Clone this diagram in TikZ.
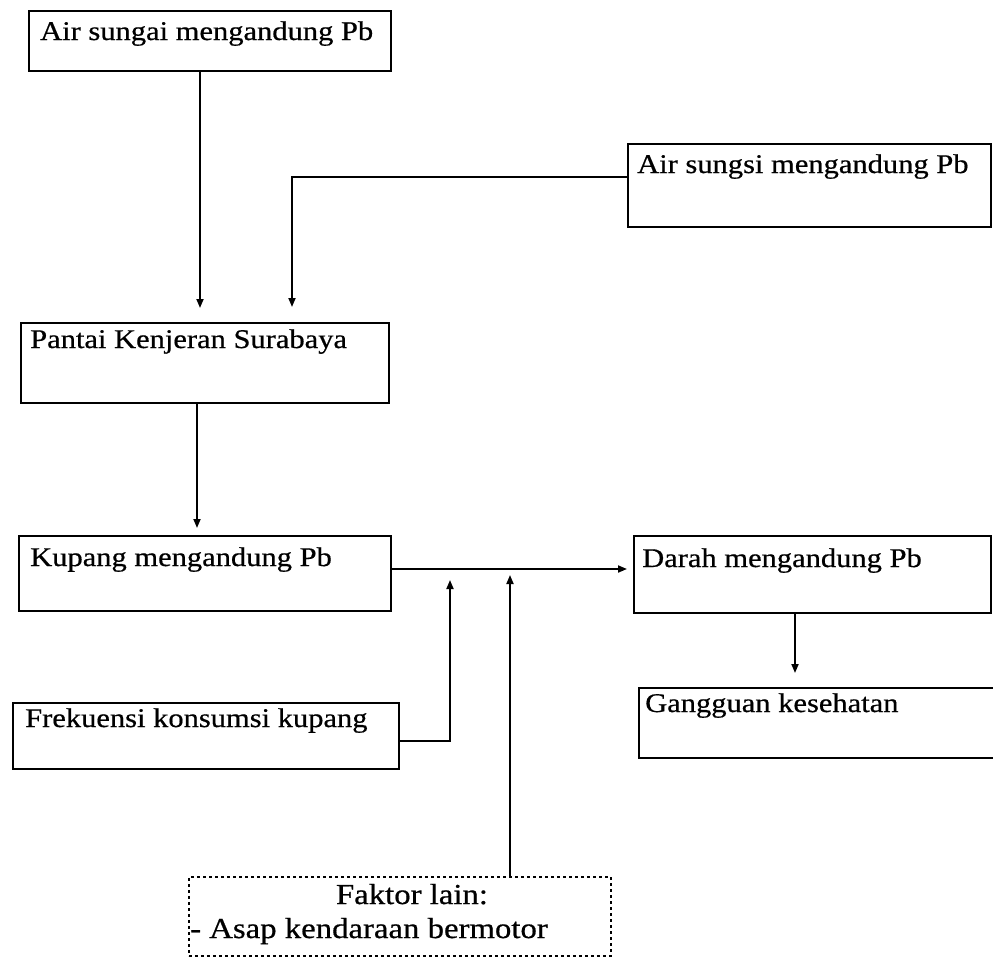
\documentclass[tikz,border=0pt]{standalone}
\usepackage{fontspec}
\setmainfont{Liberation Serif}[FakeStretch=1.13, FakeBold=0.6]
\usetikzlibrary{arrows.meta}
\begin{document}
\begin{tikzpicture}[x=1pt,y=-1pt,
  box/.style={draw=black, line width=1.5pt, rectangle, anchor=north west, inner sep=0pt},
  dbox/.style={box, dash pattern=on 3pt off 3pt},
  lbl/.style={anchor=base west, inner sep=0pt, font=\fontsize{27}{31}\selectfont},
  flbl/.style={lbl, font=\fontsize{29}{33}\selectfont},
  con/.style={line width=1.8pt},
  arr/.style={con, -{Triangle[length=9pt,width=7pt]}}]
\useasboundingbox[fill=white] (0,0) rectangle (993,956);
% boxes
\node[box, minimum width=362pt, minimum height=60pt] (b1) at (28,10) {};
\node[box, minimum width=363pt, minimum height=83pt] (b2) at (627,143) {};
\node[box, minimum width=368pt, minimum height=80pt] (b3) at (20,322) {};
\node[box, minimum width=372pt, minimum height=75pt] (b4) at (18,535) {};
\node[box, minimum width=357pt, minimum height=77pt] (b5) at (633,535) {};
\node[box, minimum width=356pt, minimum height=70pt] (b6) at (638,687) {};
\node[box, minimum width=386pt, minimum height=66pt] (b7) at (12,702) {};
\node[dbox, minimum width=422pt, minimum height=79pt] (b8) at (188,876) {};
% texts
\node[lbl] (t1) at ([shift={(12,30)}]b1.north west) {Air sungai mengandung Pb};
\node[lbl] (t2) at ([shift={(10,30)}]b2.north west) {Air sungsi mengandung Pb};
\node[lbl] (t3) at ([shift={(10,26)}]b3.north west) {Pantai Kenjeran Surabaya};
\node[lbl] (t4) at ([shift={(12,31)}]b4.north west) {Kupang mengandung Pb};
\node[lbl] (t5) at ([shift={(9,32)}]b5.north west) {Darah mengandung Pb};
\node[lbl] (t6) at ([shift={(7,25)}]b6.north west) {Gangguan kesehatan};
\node[lbl] (t7) at ([shift={(13,25)}]b7.north west) {Frekuensi konsumsi kupang};
\node[flbl, anchor=base] (t8) at ([shift={(224,28)}]b8.north west) {Faktor lain:};
\node[flbl] (t9) at ([shift={(2,62)}]b8.north west) {- Asap kendaraan bermotor};
% helper coordinates
\coordinate (a1s) at (200,70);   \coordinate (a1e) at (200,308);
\coordinate (k2) at (292,177);   \coordinate (a2e) at (292,307);
\coordinate (a3s) at (197,402);  \coordinate (a3e) at (197,528);
\coordinate (a4s) at (390,569);  \coordinate (a4e) at (627,569);
\coordinate (k5) at (450,741);   \coordinate (a5e) at (450,580);
\coordinate (a6e) at (510,575);
\coordinate (a7s) at (795,612);  \coordinate (a7e) at (795,673);
% connectors
\draw[arr] (b1.south -| a1s) -- (a1e);
\draw[arr] (b2.west |- k2) -- (k2) -- (a2e);
\draw[arr] (b3.south -| a3s) -- (a3e);
\draw[arr] (b4.east |- a4s) -- (a4e);
\draw[arr] (b7.east |- k5) -- (k5) -- (a5e);
\draw[arr] (b8.north -| a6e) -- (a6e);
\draw[arr] (b5.south -| a7s) -- (a7e);
\end{tikzpicture}
\end{document}
